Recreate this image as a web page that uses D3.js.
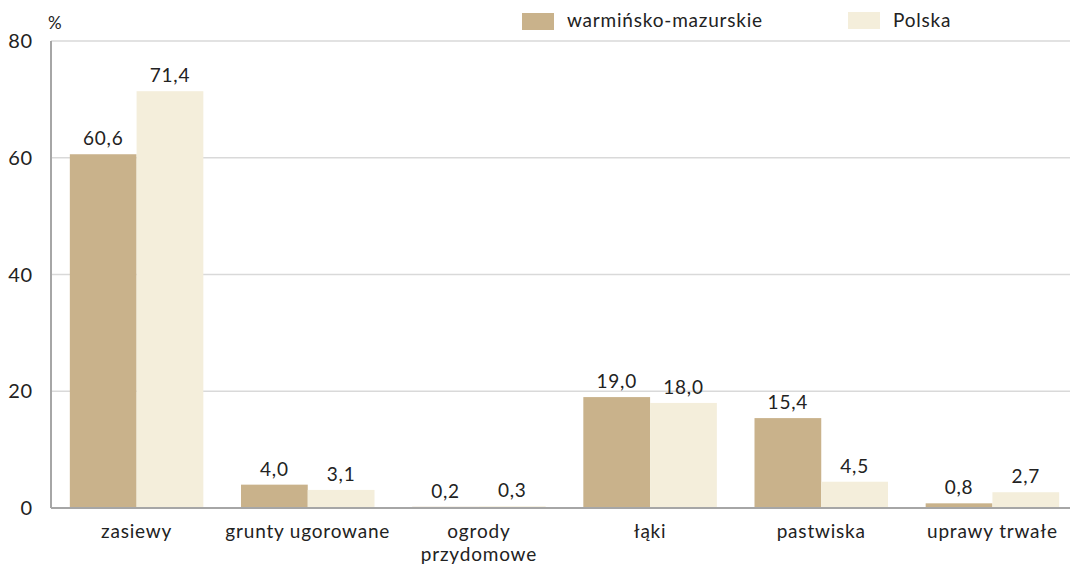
<!DOCTYPE html>
<html><head><meta charset="utf-8">
<script src="https://cdn.jsdelivr.net/npm/d3@7"></script>
<style>body{margin:0;background:#fff}svg{display:block;font-family:Lato,"Open Sans",sans-serif}text{letter-spacing:0.8px}</style>
</head><body><svg id="c" width="1070" height="566"></svg>
<script>
const categories = ["zasiewy","grunty ugorowane","ogrody\nprzydomowe","łąki","pastwiska","uprawy trwałe"];
const seriesNames = ["warmińsko-mazurskie","Polska"];
const regionValues = [60.6,4.0,0.2,19.0,15.4,0.8];
const polandValues = [71.4,3.1,0.3,18.0,4.5,2.7];
const yTicks = [0,20,40,60,80];
const colors = ["#C9B28B","#F4EEDB"];

(function(){
const svg = d3.select("#c");
const pL=51, pR=1078, pT=41, pB=508;
const fs = 19;
const x = d3.scaleBand().domain(categories).range([pL,pR]).paddingInner(0.22).paddingOuter(0.11);
const x1 = d3.scaleBand().domain([0,1]).range([0,x.bandwidth()]);
const y = d3.scaleLinear().domain([0,80]).range([pB,pT]);

svg.append("g").selectAll("line").data(yTicks.slice(1)).join("line")
  .attr("x1",pL).attr("x2",1070).attr("y1",d=>y(d)).attr("y2",d=>y(d))
  .attr("stroke","#D9D9D9").attr("stroke-width",1.5);

svg.append("g").selectAll("text").data(yTicks).join("text")
  .attr("x",33).attr("y",d=>y(d)+7).attr("text-anchor","end")
  .attr("font-size",20).attr("fill","#222").text(d=>d);
svg.append("text").attr("x",48).attr("y",29).attr("font-size",17).attr("fill","#222").text("%");

const data = categories.map((c,i)=>({c, v:[regionValues[i],polandValues[i]]}));
const g = svg.append("g").selectAll("g").data(data).join("g").attr("transform",d=>`translate(${x(d.c)},0)`);
g.selectAll("rect").data(d=>d.v).join("rect")
  .attr("x",(d,i)=>x1(i)).attr("width",x1.bandwidth())
  .attr("y",d=>y(d)).attr("height",d=>pB-y(d)).attr("fill",(d,i)=>colors[i]);
g.selectAll("text").data(d=>d.v).join("text")
  .attr("x",(d,i)=>x1(i)+x1.bandwidth()/2).attr("y",d=>y(d)-9)
  .attr("text-anchor","middle").attr("font-size",fs).attr("fill","#222")
  .text(d=>d.toFixed(1).replace(".",","));

svg.append("line").attr("x1",pL).attr("x2",1070).attr("y1",pB).attr("y2",pB).attr("stroke","#A6A6A6").attr("stroke-width",2);
svg.append("line").attr("x1",pL).attr("x2",pL).attr("y1",pT).attr("y2",pB).attr("stroke","#A6A6A6").attr("stroke-width",2);

const cl = svg.append("g").selectAll("text").data(categories).join("text")
  .attr("x",d=>x(d)+x.bandwidth()/2).attr("y",538).attr("text-anchor","middle")
  .attr("font-size",fs).attr("fill","#222");
cl.selectAll("tspan").data(d=>d.split("\n")).join("tspan")
  .attr("x",function(){return d3.select(this.parentNode).attr("x");})
  .attr("dy",(d,i)=>i?23:0).text(d=>d);

const lx=[522,848];
const lg = svg.append("g").selectAll("g").data(seriesNames).join("g");
lg.append("rect").attr("x",(d,i)=>lx[i]).attr("y",(d,i)=>i?12:13).attr("width",32).attr("height",17).attr("fill",(d,i)=>colors[i]);
lg.append("text").attr("x",(d,i)=>lx[i]+45).attr("y",27).attr("font-size",fs).attr("fill","#222").text(d=>d);
})();
</script></body></html>
